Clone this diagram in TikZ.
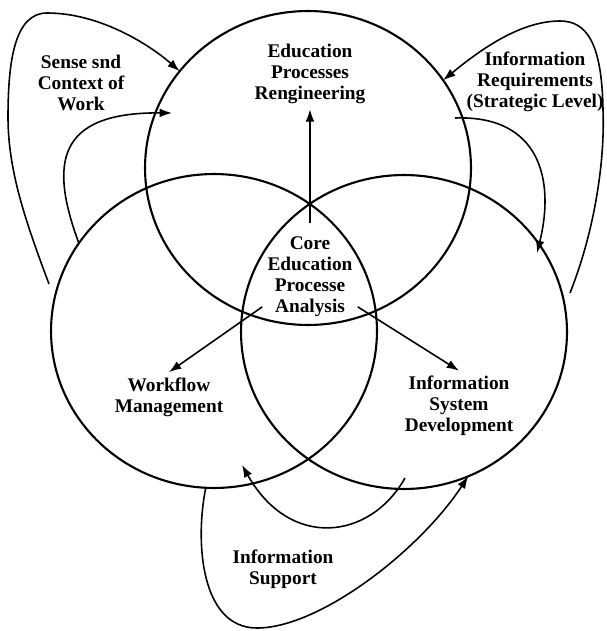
\documentclass[tikz,border=0pt]{standalone}
\usepackage{fontspec}
\setmainfont{Liberation Serif}
\usetikzlibrary{shapes}
\usetikzlibrary{arrows}
\usetikzlibrary{arrows.meta}
\tikzstyle{area}=[ellipse,draw=black,line width=1.2pt,minimum width=6.52cm,minimum height=6.28cm,inner sep=0mm,outer sep=0mm]
\tikzstyle{txt}=[align=center,font=\fontsize{11}{12}\selectfont\bfseries,inner sep=1mm]
\tikzstyle{flow}=[->,line width=0.9pt]

\begin{document}
\begin{tikzpicture}[x=0.02cm,y=0.02cm,>={Latex[length=7pt,width=5pt]}]
      \useasboundingbox (0,0) rectangle (606,-631);
      \node[area] at (308,-168) (EPR) {};
      \node[area] at (214,-331) (WM) {};
      \node[area] at (404,-332) (ISD) {};
      \node[txt] at (310,-74) (EPRt) {Education\\Processes\\Rengineering};
      \node[txt] at (310,-277) (CORE) {Core\\Education\\Processe\\Analysis};
      \node[txt] at (169,-397) (WMt) {Workflow\\Management};
      \node[txt] at (459,-406) (ISDt) {Information\\System\\Development};
      \node[txt] at (81,-83) (SCW) {Sense snd\\Context of\\Work};
      \node[txt] at (535,-82) (IRS) {Information\\Requirements\\(Strategic Level)};
      \node[txt] at (283,-569) (IS) {Information\\Support};
      \coordinate (a0) at (49,-284);
      \coordinate (b1) at (172,-113);
      \coordinate (c0) at (570,-293);
      \coordinate (d0) at (455,-118);
      \coordinate (d1) at (537,-253);
      \coordinate (f0) at (405,-478);
      \coordinate (f1) at (242,-465);
      \draw[flow] ([yshift=5pt]CORE.north) -- (EPRt.south);
      \draw[flow] (CORE.212) -- (WMt.north);
      \draw[flow] (CORE.-32) -- (ISDt.north);
      \draw[flow] (a0) .. controls (25,-220) and (8,-170) .. (8,-117)
        .. controls (8,-60) and (15,-13) .. (47,-13)
        .. controls (100,-13) and (150,-45) .. (EPR.143);
      \draw[flow] (WM.147) .. controls (50,-165) and (55,-112) .. (b1);
      \draw[flow] (c0) .. controls (595,-230) and (605,-160) .. (603,-110)
        .. controls (602,-40) and (585,-21) .. (560,-21)
        .. controls (520,-21) and (480,-50) .. (EPR.33);
      \draw[flow] (d0) .. controls (540,-115) and (555,-180) .. (d1);
      \draw[flow] (WM.-93) .. controls (195,-540) and (200,-628) .. (257,-628)
        .. controls (320,-628) and (420,-550) .. (ISD.-66);
      \draw[flow] (f0) .. controls (370,-540) and (290,-550) .. (f1);
    \end{tikzpicture}
\end{document}
